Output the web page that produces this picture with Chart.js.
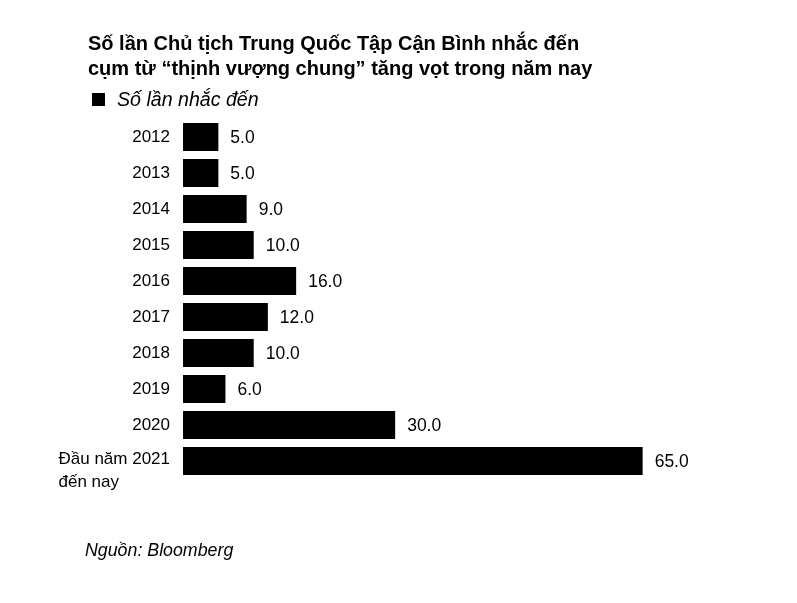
<!DOCTYPE html>
<html>
<head>
<meta charset="utf-8">
<script src="https://cdn.jsdelivr.net/npm/chart.js@4.4.0/dist/chart.umd.min.js"></script>
<style>
  body { margin: 0; background: #fff; }
  canvas { display: block; }
</style>
</head>
<body>
<canvas id="mentionsChart" width="797" height="603"></canvas>
<script>
const years = ['2012', '2013', '2014', '2015', '2016', '2017', '2018', '2019', '2020', ['Đầu năm 2021', 'đến nay']];
const mentions = [5, 5, 9, 10, 16, 12, 10, 6, 30, 65];
const titleLines = ['Số lần Chủ tịch Trung Quốc Tập Cận Bình nhắc đến', 'cụm từ “thịnh vượng chung” tăng vọt trong năm nay'];
const legendLabel = 'Số lần nhắc đến';
const sourceText = 'Nguồn: Bloomberg';

const FONT = '"Liberation Sans", Arial, Helvetica, sans-serif';

// chữ tiêu đề, chú thích, nguồn
const textPlugin = {
  id: 'textPlugin',
  afterDraw(chart) {
    const ctx = chart.ctx;
    ctx.save();
    ctx.fillStyle = '#000';
    ctx.textBaseline = 'alphabetic';
    ctx.textAlign = 'left';
    ctx.font = 'bold 20px ' + FONT;
    ctx.fillText(titleLines[0], 88, 50);
    ctx.fillText(titleLines[1], 88, 75);

    ctx.fillRect(92, 93, 13, 13);
    ctx.font = 'italic 19.6px ' + FONT;
    ctx.fillText(legendLabel, 117, 106);

    ctx.font = 'italic 17.8px ' + FONT;
    ctx.fillText(sourceText, 85, 556);
    ctx.restore();
  }
};

// nhãn trục y và giá trị ở cuối thanh
const labelPlugin = {
  id: 'labelPlugin',
  afterDatasetsDraw(chart) {
    const ctx = chart.ctx;
    const yScale = chart.scales.y;
    const meta = chart.getDatasetMeta(0);
    ctx.save();
    ctx.fillStyle = '#000';
    ctx.font = '17px ' + FONT;
    ctx.textBaseline = 'middle';
    ctx.textAlign = 'left';

    years.forEach((label, i) => {
      const y = yScale.getPixelForValue(i);
      const lines = Array.isArray(label) ? label : [label];
      const w = Math.max(...lines.map(l => ctx.measureText(l).width));
      const x = 170 - w;
      lines.forEach((l, j) => ctx.fillText(l, x, y - (lines.length > 1 ? 2 : 0) + j * 23));
    });

    ctx.font = '17.5px ' + FONT;
    meta.data.forEach((bar, i) => {
      ctx.fillText(mentions[i].toFixed(1), bar.x + 12, bar.y + 1);
    });
    ctx.restore();
  }
};

new Chart(document.getElementById('mentionsChart').getContext('2d'), {
  type: 'bar',
  data: {
    labels: years,
    datasets: [{
      label: legendLabel,
      data: mentions,
      backgroundColor: '#000',
      borderWidth: 0,
      categoryPercentage: 1,
      barPercentage: 0.78
    }]
  },
  options: {
    indexAxis: 'y',
    responsive: false,
    animation: false,
    devicePixelRatio: 1,
    layout: { padding: { left: 183, right: 119, top: 119, bottom: 124 } },
    plugins: {
      legend: { display: false },
      title: { display: false },
      tooltip: { enabled: false }
    },
    scales: {
      x: { display: false, min: 0, max: 70 },
      y: { display: false }
    }
  },
  plugins: [textPlugin, labelPlugin]
});
</script>
</body>
</html>
